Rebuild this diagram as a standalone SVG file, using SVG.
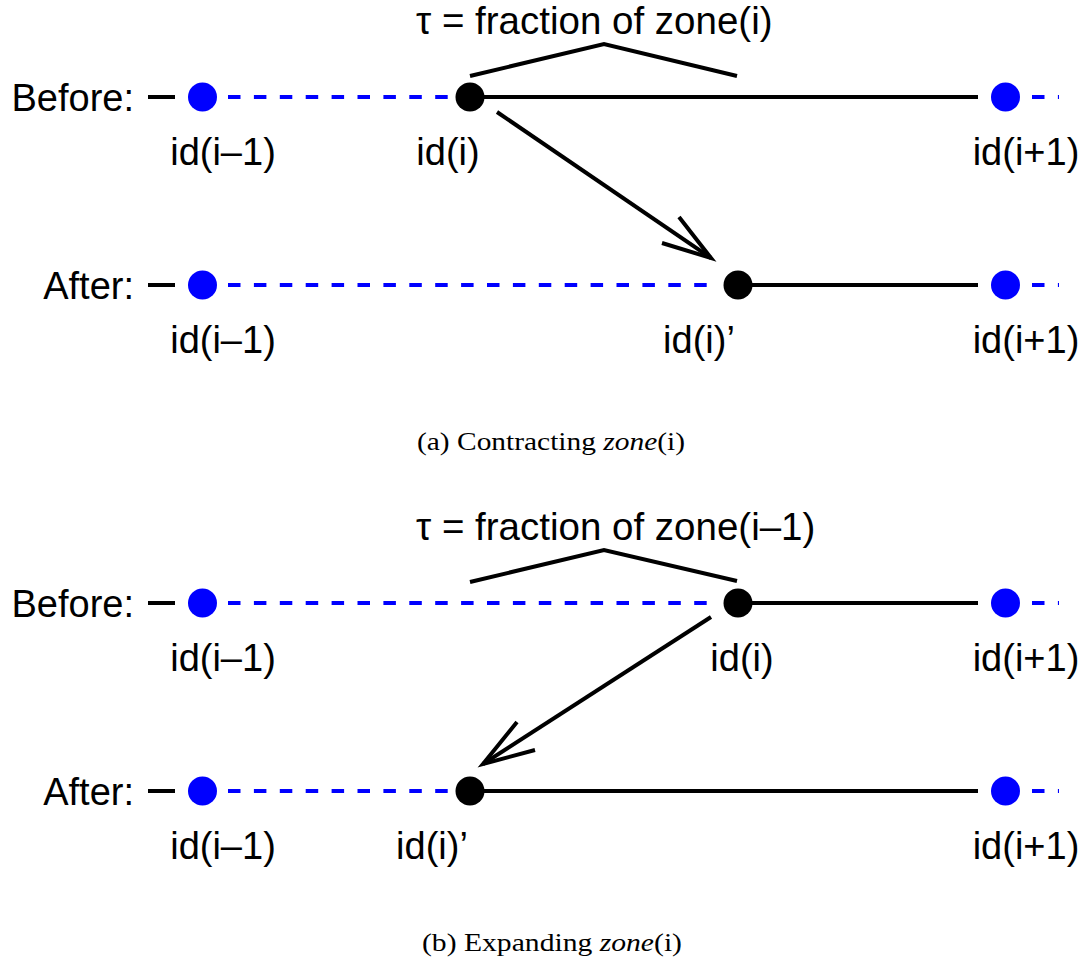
<svg xmlns="http://www.w3.org/2000/svg" width="1090" height="967" viewBox="0 0 1090 967">
  <style>
    .lbl { font-family: "Liberation Sans", Arial, sans-serif; font-size: 38px; fill: #000; }
    .ttl { font-family: "Liberation Sans", Arial, sans-serif; font-size: 38.5px; fill: #000; }
    .mid { text-anchor: middle; }
    .end { text-anchor: end; }
    .cap { font-family: "Liberation Serif", "DejaVu Serif", serif; font-size: 25px; fill: #000; }
    .solid { stroke: #000; stroke-width: 4; fill: none; }
    .dash { stroke: #0000ff; stroke-width: 4; fill: none; stroke-dasharray: 12.5 13.4; }
    .blue { fill: #0000ff; }
    .black { fill: #000; }
  </style>

  <rect width="1090" height="967" fill="#fff"/>

  <!-- (a) contracting -->
  <g id="panel-a">
    <g id="a-title">
      <text class="ttl" x="416" y="34">τ = fraction of zone(i)</text>
      <polyline class="solid" points="470,76 604,44 737,76"/>
    </g>

    <g id="a-connectors">
      <line class="solid" x1="148" y1="97" x2="175" y2="97"/>
      <line class="dash" x1="228" y1="97" x2="456" y2="97"/>
      <line class="solid" x1="470" y1="97" x2="978" y2="97"/>
      <line class="dash" x1="1032" y1="97" x2="1059" y2="97"/>

      <line class="solid" x1="148" y1="285" x2="175" y2="285"/>
      <line class="dash" x1="228" y1="285" x2="708" y2="285"/>
      <line class="solid" x1="738" y1="285" x2="978" y2="285"/>
      <line class="dash" x1="1032" y1="285" x2="1059" y2="285"/>

      <line class="solid" x1="497" y1="112" x2="711" y2="258"/>
      <polyline class="solid" points="679,217 711,258 662,243"/>
    </g>

    <g id="a-before">
      <text class="lbl end" x="134" y="111">Before:</text>
      <circle class="blue" cx="202.5" cy="97" r="14.5"/>
      <circle class="black" cx="470" cy="97" r="14.5"/>
      <circle class="blue" cx="1005.5" cy="97" r="14.5"/>
      <text class="lbl mid" x="223" y="165">id(i–1)</text>
      <text class="lbl mid" x="448" y="165">id(i)</text>
      <text class="lbl mid" x="1026" y="165">id(i+1)</text>
    </g>

    <g id="a-after">
      <text class="lbl end" x="134" y="299">After:</text>
      <circle class="blue" cx="202.5" cy="285" r="14.5"/>
      <circle class="black" cx="738" cy="285" r="14.5"/>
      <circle class="blue" cx="1005.5" cy="285" r="14.5"/>
      <text class="lbl mid" x="223" y="353">id(i–1)</text>
      <text class="lbl mid" x="699" y="353">id(i)’</text>
      <text class="lbl mid" x="1026" y="353">id(i+1)</text>
    </g>

    <text id="a-caption" class="cap" x="417" y="450" textLength="268" lengthAdjust="spacingAndGlyphs">(a)  Contracting <tspan font-style="italic">zone</tspan>(i)</text>
  </g>

  <!-- (b) expanding -->
  <g id="panel-b">
    <g id="b-title">
      <text class="ttl" x="416" y="540">τ = fraction of zone(i–1)</text>
      <polyline class="solid" points="470,582 604,550 737,581"/>
    </g>

    <g id="b-connectors">
      <line class="solid" x1="148" y1="603" x2="175" y2="603"/>
      <line class="dash" x1="228" y1="603" x2="708" y2="603"/>
      <line class="solid" x1="738" y1="603" x2="978" y2="603"/>
      <line class="dash" x1="1032" y1="603" x2="1059" y2="603"/>

      <line class="solid" x1="148" y1="791" x2="175" y2="791"/>
      <line class="dash" x1="228" y1="791" x2="456" y2="791"/>
      <line class="solid" x1="470" y1="791" x2="978" y2="791"/>
      <line class="dash" x1="1032" y1="791" x2="1059" y2="791"/>

      <line class="solid" x1="711" y1="617" x2="483" y2="764"/>
      <polyline class="solid" points="517,722 483,764 535,750"/>
    </g>

    <g id="b-before">
      <text class="lbl end" x="134" y="617">Before:</text>
      <circle class="blue" cx="202.5" cy="603" r="14.5"/>
      <circle class="black" cx="738" cy="603" r="14.5"/>
      <circle class="blue" cx="1005.5" cy="603" r="14.5"/>
      <text class="lbl mid" x="223" y="671">id(i–1)</text>
      <text class="lbl mid" x="742" y="671">id(i)</text>
      <text class="lbl mid" x="1026" y="671">id(i+1)</text>
    </g>

    <g id="b-after">
      <text class="lbl end" x="134" y="805">After:</text>
      <circle class="blue" cx="202.5" cy="791" r="14.5"/>
      <circle class="black" cx="470" cy="791" r="14.5"/>
      <circle class="blue" cx="1005.5" cy="791" r="14.5"/>
      <text class="lbl mid" x="223" y="859">id(i–1)</text>
      <text class="lbl mid" x="432" y="859">id(i)’</text>
      <text class="lbl mid" x="1026" y="859">id(i+1)</text>
    </g>

    <text id="b-caption" class="cap" x="422" y="951" textLength="260" lengthAdjust="spacingAndGlyphs">(b) Expanding <tspan font-style="italic">zone</tspan>(i)</text>
  </g>
</svg>
